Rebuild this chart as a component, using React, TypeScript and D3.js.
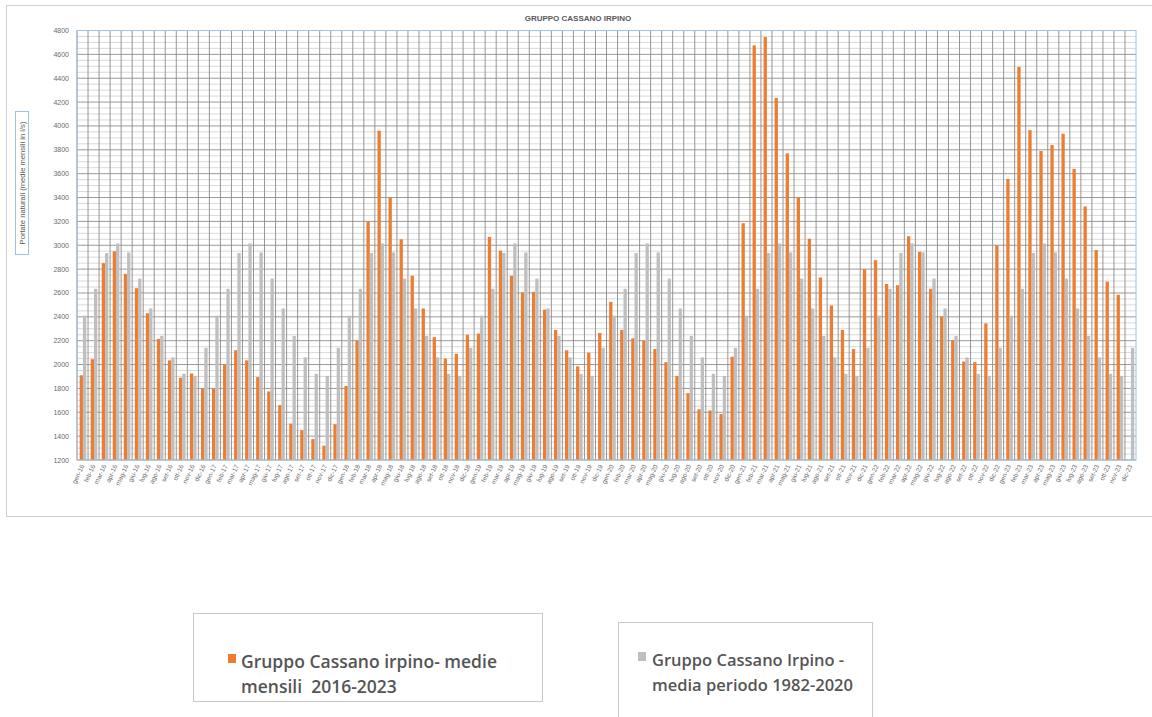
import React from 'react';
import * as d3 from 'd3';

const monthNames = ['gen', 'feb', 'mar', 'apr', 'mag', 'giu', 'lug', 'ago', 'set', 'ott', 'nov', 'dic'];
const yearSuffixes = ['16', '17', '18', '19', '20', '21', '22', '23'];
const categories = yearSuffixes.flatMap((y) => monthNames.map((m) => `${m}-${y}`));

// Gruppo Cassano irpino - medie mensili 2016-2023 (l/s)
const monthly2016 = [1910, 2045, 2850, 2950, 2760, 2640, 2430, 2215, 2035, 1890, 1925, 1800];
const monthly2017 = [1800, 2000, 2120, 2035, 1895, 1775, 1660, 1505, 1450, 1375, 1320, 1500];
const monthly2018 = [1820, 2200, 3200, 3960, 3400, 3050, 2745, 2470, 2230, 2050, 2090, 2250];
const monthly2019 = [2260, 3070, 2955, 2745, 2605, 2610, 2460, 2290, 2120, 1985, 2100, 2265];
const monthly2020 = [2525, 2290, 2220, 2200, 2130, 2020, 1905, 1760, 1625, 1615, 1585, 2065];
const monthly2021 = [3185, 4675, 4745, 4235, 3770, 3400, 3055, 2730, 2495, 2290, 2130, 2800];
const monthly2022 = [2875, 2675, 2665, 3075, 2945, 2635, 2405, 2205, 2025, 2020, 2345, 3000];
const monthly2023 = [3555, 4495, 3965, 3790, 3840, 3935, 3640, 3325, 2960, 2695, 2585, null];
const monthlySeries: (number | null)[] = [
  ...monthly2016, ...monthly2017, ...monthly2018, ...monthly2019,
  ...monthly2020, ...monthly2021, ...monthly2022, ...monthly2023,
];

// Gruppo Cassano Irpino - media periodo 1982-2020 (same month each year)
const periodMean = [2410, 2635, 2935, 3015, 2940, 2720, 2470, 2240, 2060, 1922, 1905, 2140];
const periodSeries = categories.map((_, i) => periodMean[i % 12]);

const yTicks = d3.range(1200, 4801, 200);

const W = 1152;
const H = 717;
const plot = { left: 77, right: 1136, top: 30.5, bottom: 460 };

export default function App() {
  const x = d3.scaleBand<string>().domain(categories).range([plot.left, plot.right]).padding(0);
  const bw = x.bandwidth();
  const inner = d3.scaleBand<string>().domain(['a', 'b']).range([bw * 0.24, bw * 0.84]).padding(0);
  const y = d3.scaleLinear().domain([1200, 4800]).range([plot.bottom, plot.top]);

  const minorTicks = d3.range(1250, 4800, 50).filter((v) => v % 200 !== 0);
  const font = '"Liberation Sans", Arial, sans-serif';
  const legendFont = '"Open Sans", "Noto Sans", sans-serif';

  return (
    <svg width={W} height={H} style={{ position: 'absolute', left: 0, top: 0, background: '#fff' }}>
      {/* chart frame */}
      <rect x={6.5} y={5.5} width={1170} height={511} fill="#fff" stroke="#d0d0d0" />
      <text x={578} y={21} textAnchor="middle" fontFamily={font} fontSize={8} fontWeight="bold" fill="#5a5a5a">
        GRUPPO CASSANO IRPINO
      </text>

      {/* grid */}
      {minorTicks.map((v) => (
        <line key={'m' + v} x1={plot.left} x2={plot.right} y1={y(v)} y2={y(v)} stroke="#cfcfcf" strokeWidth={0.8} />
      ))}
      {yTicks.map((v) => (
        <line key={'g' + v} x1={plot.left} x2={plot.right} y1={y(v)} y2={y(v)} stroke="#8f8f8f" strokeWidth={0.9} />
      ))}
      {categories.map((c) => (
        <line key={'v' + c} x1={x(c)!} x2={x(c)!} y1={plot.top} y2={plot.bottom} stroke="#8a8a8a" strokeWidth={0.9} />
      ))}

      {/* bars */}
      {categories.map((c, i) => {
        const v = monthlySeries[i];
        if (v == null) return null;
        return (
          <rect key={'o' + c} x={x(c)! + inner('a')!} y={y(v)} width={inner.bandwidth()} height={plot.bottom - y(v)} fill="#ED7D31" />
        );
      })}
      {categories.map((c, i) => {
        const v = periodSeries[i];
        return (
          <rect key={'p' + c} x={x(c)! + inner('b')!} y={y(v)} width={inner.bandwidth()} height={plot.bottom - y(v)} fill="#BFBFBF" />
        );
      })}

      {/* plot border */}
      <rect x={plot.left} y={plot.top} width={plot.right - plot.left} height={plot.bottom - plot.top} fill="none" stroke="#9DC3E6" strokeWidth={1} />

      {/* y labels */}
      {yTicks.map((v) => (
        <text key={'t' + v} x={69} y={y(v) + 2.5} textAnchor="end" fontFamily={font} fontSize={7} fill="#6a6a6a">
          {v}
        </text>
      ))}

      {/* y title */}
      <rect x={15.5} y={111.5} width={13} height={143} fill="#fff" stroke="#9DC3E6" />
      <text transform="translate(25,183) rotate(-90)" textAnchor="middle" fontFamily={font} fontSize={7.6} fill="#5a5a5a">
        Portate naturali (medie mensili in l/s)
      </text>

      {/* x labels */}
      {categories.map((c) => (
        <text
          key={'x' + c}
          transform={`translate(${x(c)! + bw / 2 + 2},${plot.bottom + 6}) rotate(-65)`}
          textAnchor="end"
          fontFamily={font}
          fontSize={6.5}
          fill="#6a6a6a"
        >
          {c}
        </text>
      ))}

      {/* legend 1 */}
      <rect x={193.5} y={613.5} width={349} height={88} fill="#fff" stroke="#c8c8c8" />
      <rect x={228} y={654} width={8} height={9} fill="#ED7D31" />
      <text x={241} y={668} fontFamily={legendFont} fontSize={17.5} fontWeight={600} fill="#555">
        Gruppo Cassano irpino- medie
      </text>
      <text x={241} y={693} fontFamily={legendFont} fontSize={17.5} fontWeight={600} fill="#555" xmlSpace="preserve">
        mensili  2016-2023
      </text>

      {/* legend 2 */}
      <rect x={618.5} y={622.5} width={254} height={110} fill="#fff" stroke="#c8c8c8" />
      <rect x={638} y={652} width={8} height={9} fill="#BFBFBF" />
      <text x={652} y={666} fontFamily={legendFont} fontSize={16.5} fontWeight={600} fill="#555">
        Gruppo Cassano Irpino -
      </text>
      <text x={652} y={691} fontFamily={legendFont} fontSize={16.5} fontWeight={600} fill="#555">
        media periodo 1982-2020
      </text>
    </svg>
  );
}
